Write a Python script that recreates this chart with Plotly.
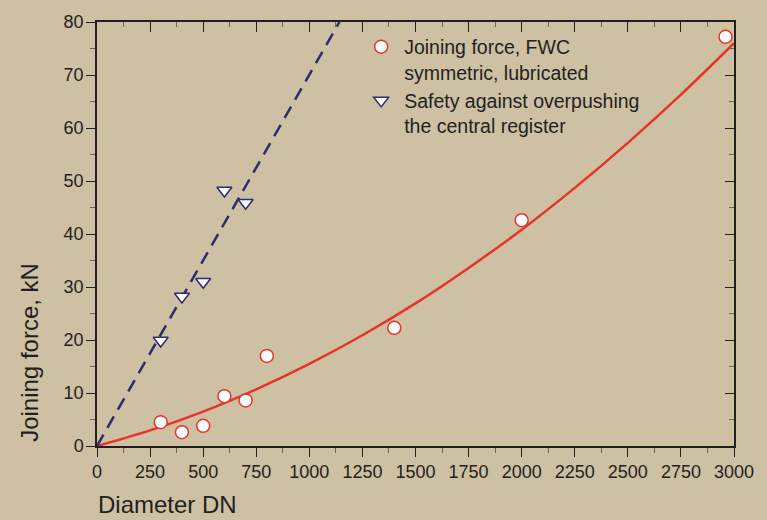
import plotly.graph_objects as go

# Data
dn_force = [300, 400, 500, 600, 700, 800, 1400, 2000, 2960]
force_kn = [4.5, 2.6, 3.8, 9.4, 8.6, 17.0, 22.3, 42.6, 77.2]

dn_safety = [300, 400, 500, 600, 700]
safety_kn = [19.9, 28.2, 31.0, 48.2, 45.9]

# fitted curve
fit_dn = [0, 250, 500, 750, 1000, 1250, 1500, 1750, 2000, 2250, 2500, 2750, 3000]
fit_kn = [0, 2.95, 6.5, 10.7, 15.5, 20.9, 26.9, 33.6, 40.8, 48.7, 57.2, 66.3, 76.0]

# safety line
safe_line_dn = [0, 1142]
safe_line_kn = [0, 80]

x_ticks = [0, 250, 500, 750, 1000, 1250, 1500, 1750, 2000, 2250, 2500, 2750, 3000]
y_ticks = [0, 10, 20, 30, 40, 50, 60, 70, 80]

BG = "#cdc0a3"
INK = "#231f20"
RED = "#e8332a"
NAVY = "#2e2b6e"
FONT = "Liberation Sans, Arial, sans-serif"

fig = go.Figure()

fig.add_trace(go.Scatter(x=fit_dn, y=fit_kn, mode="lines", line=dict(color=RED, width=2.5, shape="spline"),
                         showlegend=False, hoverinfo="skip"))
fig.add_trace(go.Scatter(x=safe_line_dn, y=safe_line_kn, mode="lines",
                         line=dict(color=NAVY, width=2.5, dash="13px,8px"),
                         showlegend=False, hoverinfo="skip"))
fig.add_trace(go.Scatter(x=dn_force, y=force_kn, mode="markers", name="Joining force, FWC<br>symmetric, lubricated",
                         marker=dict(symbol="circle", size=13, color="white", line=dict(color=RED, width=1.5)),
                         cliponaxis=False))
fig.add_trace(go.Scatter(x=dn_safety, y=safety_kn, mode="markers", name="Safety against overpushing<br>the central register",
                         marker=dict(symbol="triangle-down", size=13, color="white", line=dict(color=NAVY, width=1.5)),
                         cliponaxis=False))
# invisible trace for mirrored axes
fig.add_trace(go.Scatter(x=[0], y=[0], xaxis="x2", yaxis="y2", mode="markers",
                         marker=dict(opacity=0), showlegend=False, hoverinfo="skip"))

axis_common = dict(showgrid=False, zeroline=False, showline=True, linecolor=INK, linewidth=1.5,
                   tickcolor=INK, tickwidth=1.2)

fig.update_layout(
    width=767, height=520,
    margin=dict(l=97, r=33, t=20, b=74),
    paper_bgcolor=BG, plot_bgcolor=BG,
    font=dict(family=FONT, color=INK, size=18),
    xaxis=dict(range=[0, 3000], tickvals=x_ticks, ticks="outside", ticklen=9,
               minor=dict(dtick=125, tick0=0, ticks="outside", ticklen=5, tickcolor="#6e655a", tickwidth=1.2),
               tickfont=dict(size=18), **axis_common),
    yaxis=dict(range=[0, 80], tickvals=y_ticks, ticks="outside", ticklen=9,
               minor=dict(dtick=5, tick0=0, ticks="outside", ticklen=5, tickcolor="#6e655a", tickwidth=1.2),
               tickfont=dict(size=18), ticklabelstandoff=-1, **axis_common),
    xaxis2=dict(range=[0, 3000], overlaying="x", side="top", tickvals=x_ticks, ticks="inside", ticklen=10,
                showticklabels=False,
                minor=dict(dtick=125, tick0=0, ticks="inside", ticklen=5, tickcolor="#6e655a", tickwidth=1.2),
                **axis_common),
    yaxis2=dict(range=[0, 80], overlaying="y", side="right", tickvals=y_ticks, ticks="inside", ticklen=9,
                showticklabels=False,
                minor=dict(dtick=5, tick0=0, ticks="inside", ticklen=5, tickcolor="#6e655a", tickwidth=1.2),
                **axis_common),
    legend=dict(x=0.41, y=0.987, xanchor="left", yanchor="top", bgcolor="rgba(0,0,0,0)",
                font=dict(size=19.5, color=INK), valign="top", tracegroupgap=4, itemwidth=36),
    annotations=[
        dict(text="Joining force, kN", xref="paper", yref="paper", x=-0.105, y=0.22,
             textangle=-90, showarrow=False, font=dict(size=24, color=INK), xanchor="center", yanchor="middle"),
        dict(text="Diameter DN", xref="paper", yref="paper", x=-0.002, y=-0.138,
             showarrow=False, font=dict(size=24, color=INK), xanchor="left", yanchor="middle"),
    ],
)

fig.write_html("out.html")
